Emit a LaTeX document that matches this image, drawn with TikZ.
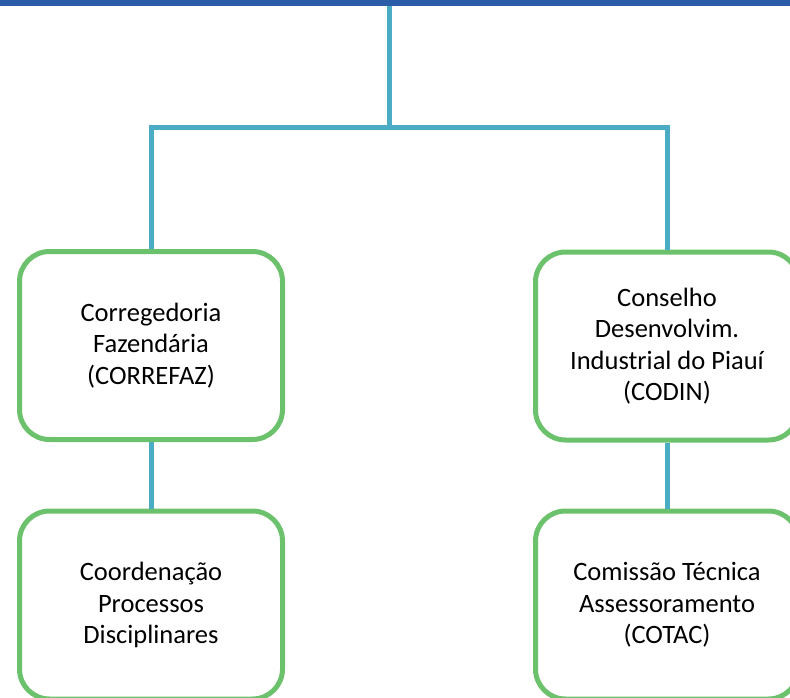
\documentclass[tikz,border=0pt]{standalone}
\usepackage{fontspec}
\setmainfont{Carlito}
\definecolor{barblue}{HTML}{2B5CA8}
\definecolor{linkblue}{HTML}{4BACC6}
\definecolor{boxgreen}{HTML}{6CC26C}
\begin{document}
\begin{tikzpicture}[x=1pt,y=-1pt,
  orgbox/.style={draw=boxgreen, line width=5pt, rounded corners=30pt, fill=white,
    minimum width=263pt, minimum height=188pt, align=center, inner sep=0pt,
    font=\fontsize{26.5pt}{31.5pt}\selectfont},
  link/.style={draw=linkblue, line width=5pt}]
\useasboundingbox (0,0) rectangle (790,698);
\coordinate (top) at (389,5);
\coordinate (mid) at (389,128);
\node[orgbox] (b1) at (151,345.5) {Corregedoria\\Fazendária\\(CORREFAZ)};
\node[orgbox] (b2) at (667,346) {Conselho\\Desenvolvim.\\Industrial do Piauí\\(CODIN)};
\node[orgbox] (b3) at (151,605) {Coordenação\\Processos\\Disciplinares};
\node[orgbox] (b4) at (667,605) {Comissão Técnica\\Assessoramento\\(COTAC)};
\draw[link] (top) -- (mid) -| (b1.north);
\draw[link] (mid) -| (b2.north);
\draw[link] (b1.south) -- (b3.north);
\draw[link] (b2.south) -- (b4.north);
\fill[barblue] (0,0) rectangle (790,6.5);
\end{tikzpicture}
\end{document}
